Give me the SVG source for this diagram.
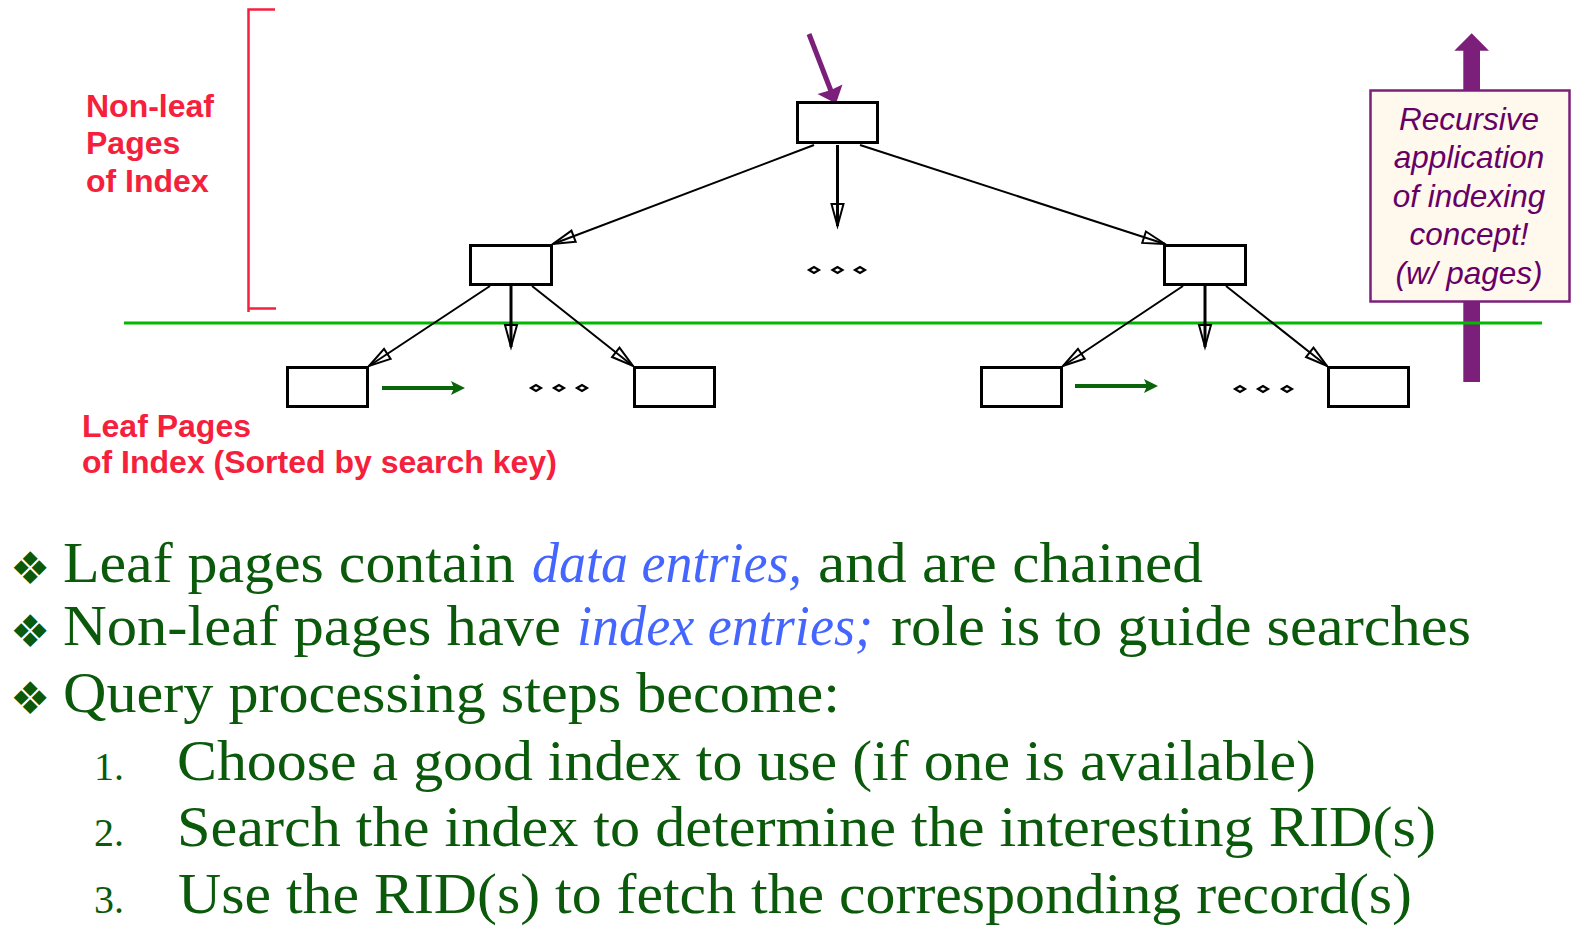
<svg xmlns="http://www.w3.org/2000/svg" width="1588" height="942" viewBox="0 0 1588 942">
<style>
.box{fill:#fff;stroke:#000;stroke-width:3}
.edge{fill:none;stroke:#000;stroke-width:2}
.vedge{fill:none;stroke:#000;stroke-width:3}
.dot{fill:#fff;stroke:#000;stroke-width:2.2}
.red{font-family:"Liberation Sans",Arial,sans-serif;font-weight:bold;font-size:32px;fill:#F5203C}
.note{font-family:"Liberation Sans",Arial,sans-serif;font-style:italic;font-size:31.5px;fill:#660066;text-anchor:middle}
.body{font-family:"Liberation Serif","Times New Roman",serif;font-size:58px;fill:#0B5A0B}
.em{font-family:"Liberation Serif","Times New Roman",serif;font-style:italic;font-size:58px;fill:#4466FF}
.num{font-family:"Liberation Serif","Times New Roman",serif;font-size:40px;fill:#0B5A0B}
.bul{font-family:"DejaVu Sans",sans-serif;font-size:45px;fill:#0B5A0B}
.chain{stroke:#0A640A;stroke-width:4;fill:none}
</style>
<defs>
<marker id="open" markerUnits="userSpaceOnUse" markerWidth="24" markerHeight="12" refX="22" refY="6" orient="auto" overflow="visible">
<path d="M0,0 L22,6 L0,12 Z" fill="none" stroke="#000" stroke-width="2" stroke-linejoin="miter"/>
</marker>
</defs>
<rect width="1588" height="942" fill="#fff"/>

<g id="bracket" fill="none" stroke="#F5203C" stroke-width="2.5">
<path d="M275,9.5 H248.5 V312"/>
<path d="M248.5,308.5 H276"/>
</g>

<g id="label-nonleaf" class="red">
<text x="86" y="117">Non-leaf</text>
<text x="86" y="154">Pages</text>
<text x="86" y="192">of Index</text>
</g>

<g id="label-leaf" class="red">
<text x="82" y="437">Leaf Pages</text>
<text x="82" y="473">of Index (Sorted by search key)</text>
</g>

<g id="recursion-arrow" fill="#7B1F7A">
<rect x="1463.3" y="50" width="16.7" height="332"/>
<path d="M1454.3,50.7 L1471.7,33.3 L1489,50.7 Z"/>
</g>

<g id="separator">
<line x1="124" y1="323" x2="1542" y2="323" stroke="#00B800" stroke-width="3"/>
</g>

<g id="connectors">
<line class="edge" x1="814" y1="145" x2="553" y2="244" marker-end="url(#open)"/>
<line class="vedge" x1="837.5" y1="145" x2="837.5" y2="226" marker-end="url(#open)"/>
<line class="edge" x1="860" y1="145" x2="1165" y2="244" marker-end="url(#open)"/>
<line class="edge" x1="490" y1="286" x2="369" y2="366" marker-end="url(#open)"/>
<line class="vedge" x1="511" y1="286" x2="511" y2="347" marker-end="url(#open)"/>
<line class="edge" x1="532" y1="286" x2="633" y2="366" marker-end="url(#open)"/>
<line class="edge" x1="1183" y1="286" x2="1063" y2="366" marker-end="url(#open)"/>
<line class="vedge" x1="1205" y1="286" x2="1205" y2="347" marker-end="url(#open)"/>
<line class="edge" x1="1226" y1="286" x2="1327" y2="366" marker-end="url(#open)"/>
<g id="chain-left">
<line class="chain" x1="382" y1="388" x2="455" y2="388"/>
<path d="M465,388 L451,381 L454,388 L451,395 Z" fill="#0A640A"/>
</g>
<g id="chain-right">
<line class="chain" x1="1075" y1="386" x2="1148" y2="386"/>
<path d="M1158,386 L1144,379 L1147,386 L1144,393 Z" fill="#0A640A"/>
</g>
<g id="entry-arrow">
<line x1="809" y1="34" x2="831" y2="91" stroke="#7B1F7A" stroke-width="5"/>
<path d="M836,103.5 L842.5,84.5 L831,90 L817.5,94 Z" fill="#7B1F7A"/>
</g>
</g>

<g id="root"><rect class="box" x="797.5" y="102.5" width="80" height="40"/></g>
<g id="mid-left"><rect class="box" x="470.5" y="245.5" width="81" height="39"/></g>
<g id="mid-right"><rect class="box" x="1164.5" y="245.5" width="81" height="39"/></g>
<g id="leaf-1"><rect class="box" x="287.5" y="367.5" width="80" height="39"/></g>
<g id="leaf-2"><rect class="box" x="634.5" y="367.5" width="80" height="39"/></g>
<g id="leaf-3"><rect class="box" x="981.5" y="367.5" width="80" height="39"/></g>
<g id="leaf-4"><rect class="box" x="1328.5" y="367.5" width="80" height="39"/></g>

<g id="ellipsis-top">
<path class="dot" d="M809,270 L814,267 L819,270 L814,273 Z"/>
<path class="dot" d="M832.5,270 L837.5,267 L842.5,270 L837.5,273 Z"/>
<path class="dot" d="M855,270 L860,267 L865,270 L860,273 Z"/>
</g>
<g id="ellipsis-left">
<path class="dot" d="M531,388 L536,385 L541,388 L536,391 Z"/>
<path class="dot" d="M554,388 L559,385 L564,388 L559,391 Z"/>
<path class="dot" d="M577,388 L582,385 L587,388 L582,391 Z"/>
</g>
<g id="ellipsis-right">
<path class="dot" d="M1235,389 L1240,386 L1245,389 L1240,392 Z"/>
<path class="dot" d="M1258,389 L1263,386 L1268,389 L1263,392 Z"/>
<path class="dot" d="M1282,389 L1287,386 L1292,389 L1287,392 Z"/>
</g>

<g id="recursion-note">
<rect x="1370.5" y="90.5" width="199" height="211" fill="#FFF8EC" stroke="#7B1F7A" stroke-width="2.5"/>
<text class="note" x="1469" y="130">Recursive</text>
<text class="note" x="1469" y="168">application</text>
<text class="note" x="1469" y="207">of indexing</text>
<text class="note" x="1469" y="245">concept!</text>
<text class="note" x="1469" y="284">(w/ pages)</text>
</g>

<g id="bullets">
<text class="bul" x="10" y="584">❖</text>
<text class="body" x="63" y="582" textLength="452" lengthAdjust="spacingAndGlyphs">Leaf pages contain</text>
<text class="em" x="532" y="582" textLength="270" lengthAdjust="spacingAndGlyphs">data entries,</text>
<text class="body" x="818" y="582" textLength="385" lengthAdjust="spacingAndGlyphs">and are chained</text>

<text class="bul" x="10" y="647">❖</text>
<text class="body" x="63" y="645" textLength="498" lengthAdjust="spacingAndGlyphs">Non-leaf pages have</text>
<text class="em" x="577" y="645" textLength="296" lengthAdjust="spacingAndGlyphs">index entries;</text>
<text class="body" x="891" y="645" textLength="580" lengthAdjust="spacingAndGlyphs">role is to guide searches</text>

<text class="bul" x="10" y="714">❖</text>
<text class="body" x="63" y="712" textLength="777" lengthAdjust="spacingAndGlyphs">Query processing steps become:</text>
</g>

<g id="steps">
<text class="num" x="94" y="780">1.</text>
<text class="body" x="177" y="780" textLength="1139" lengthAdjust="spacingAndGlyphs">Choose a good index to use (if one is available)</text>
<text class="num" x="94" y="846">2.</text>
<text class="body" x="177" y="846" textLength="1259" lengthAdjust="spacingAndGlyphs">Search the index to determine the interesting RID(s)</text>
<text class="num" x="94" y="913">3.</text>
<text class="body" x="178" y="913" textLength="1234" lengthAdjust="spacingAndGlyphs">Use the RID(s) to fetch the corresponding record(s)</text>
</g>
</svg>
